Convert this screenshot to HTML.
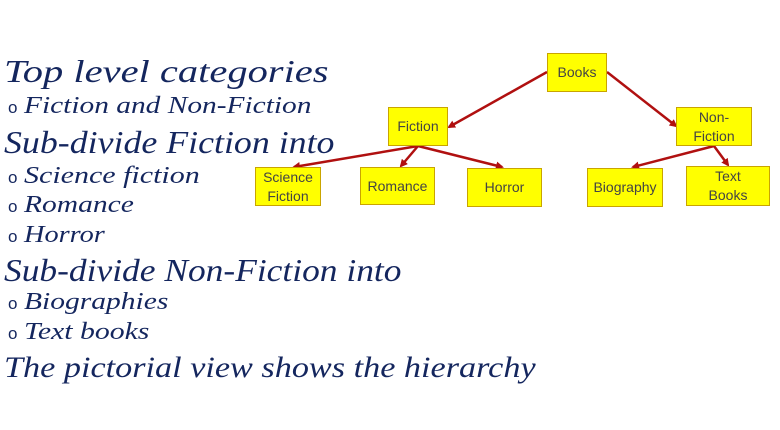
<!DOCTYPE html>
<html><head><style>
body{margin:0;width:780px;height:430px;background:#fff;position:relative;overflow:hidden;font-family:"Liberation Serif",serif;}
.t{position:absolute;left:4px;white-space:nowrap;color:#14265e;font-style:italic;transform-origin:left center;}
.h{font-size:32px;}
.s{font-size:24px;left:24px;}
.b{position:absolute;left:8px;font-size:17px;color:#14265e;font-family:"Liberation Sans",sans-serif;}
.box{position:absolute;background:#ffff00;border:1px solid #c9a400;box-sizing:border-box;display:flex;align-items:center;justify-content:center;text-align:center;font-family:"Liberation Sans",sans-serif;font-size:14px;color:#444;line-height:19px;}
</style></head><body>
<div class="t h" style="top:53px;transform:scaleX(1.265)">Top level categories</div>
<div class="b" style="top:98px">o</div><div class="t s" style="top:93px;transform:scaleX(1.225)">Fiction and Non-Fiction</div>
<div class="t h" style="top:124px;transform:scaleX(1.12)">Sub-divide Fiction into</div>
<div class="b" style="top:168px">o</div><div class="t s" style="top:163px;transform:scaleX(1.25)">Science fiction</div>
<div class="b" style="top:197px">o</div><div class="t s" style="top:192px;transform:scaleX(1.23)">Romance</div>
<div class="b" style="top:227px">o</div><div class="t s" style="top:222px;transform:scaleX(1.18)">Horror</div>
<div class="t h" style="top:252px;transform:scaleX(1.107)">Sub-divide Non-Fiction into</div>
<div class="b" style="top:294px">o</div><div class="t s" style="top:289px;transform:scaleX(1.23)">Biographies</div>
<div class="b" style="top:324px">o</div><div class="t s" style="top:319px;transform:scaleX(1.24)">Text books</div>
<div class="t h" style="top:351px;font-size:30px;transform:scaleX(1.14)">The pictorial view shows the hierarchy</div>

<svg width="780" height="430" style="position:absolute;left:0;top:0">
<defs><marker id="a" markerWidth="8" markerHeight="8" refX="6" refY="4" orient="auto" markerUnits="userSpaceOnUse"><path d="M0,0 L8,4 L0,8 z" fill="#b01010"/></marker></defs>
<g stroke="#b01010" stroke-width="2.5" fill="none" marker-end="url(#a)">
<line x1="547" y1="72" x2="449" y2="127"/>
<line x1="607" y1="72" x2="676" y2="126"/>
<line x1="418" y1="146" x2="294" y2="167"/>
<line x1="418" y1="146" x2="401" y2="166"/>
<line x1="418" y1="146" x2="502" y2="167"/>
<line x1="714" y1="146" x2="633" y2="167"/>
<line x1="714" y1="146" x2="728" y2="165"/>
</g></svg>

<div class="box" style="left:547px;top:53px;width:60px;height:39px">Books</div>
<div class="box" style="left:388px;top:107px;width:60px;height:39px">Fiction</div>
<div class="box" style="left:676px;top:107px;width:76px;height:39px">Non-<br>Fiction</div>
<div class="box" style="left:255px;top:167px;width:66px;height:39px">Science<br>Fiction</div>
<div class="box" style="left:360px;top:167px;width:75px;height:38px">Romance</div>
<div class="box" style="left:467px;top:168px;width:75px;height:39px">Horror</div>
<div class="box" style="left:587px;top:168px;width:76px;height:39px">Biography</div>
<div class="box" style="left:686px;top:166px;width:84px;height:40px">Text<br>Books</div>
</body></html>
